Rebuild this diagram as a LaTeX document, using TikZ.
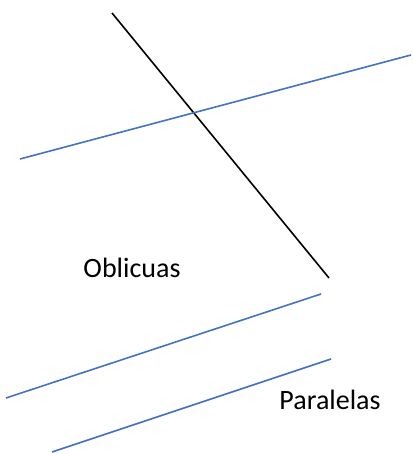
\documentclass[tikz,border=0pt]{standalone}
\usepackage{fontspec}
\setmainfont{Carlito}
\definecolor{lineblue}{RGB}{68,114,196}
\begin{document}
\begin{tikzpicture}[
  x=1pt, y=-1pt,
  blueline/.style={lineblue, line width=1.6pt},
  blackline/.style={black, line width=1.6pt},
  lbl/.style={font=\fontsize{28}{32}\selectfont, anchor=base, inner sep=0pt}
]
\useasboundingbox (0,0) rectangle (412,454);
% oblique lines
\draw[blackline] (112,13) -- (329,278);
\draw[blueline] (20,159) -- (411,55);
% parallel lines
\draw[blueline] (6,398) -- (321,294);
\draw[blueline] (52,452) -- (331,359);
% labels
\node[lbl] (oblicuas)  at (132,277) {Oblicuas};
\node[lbl] (paralelas) at (330,409) {Paralelas};
\end{tikzpicture}
\end{document}
